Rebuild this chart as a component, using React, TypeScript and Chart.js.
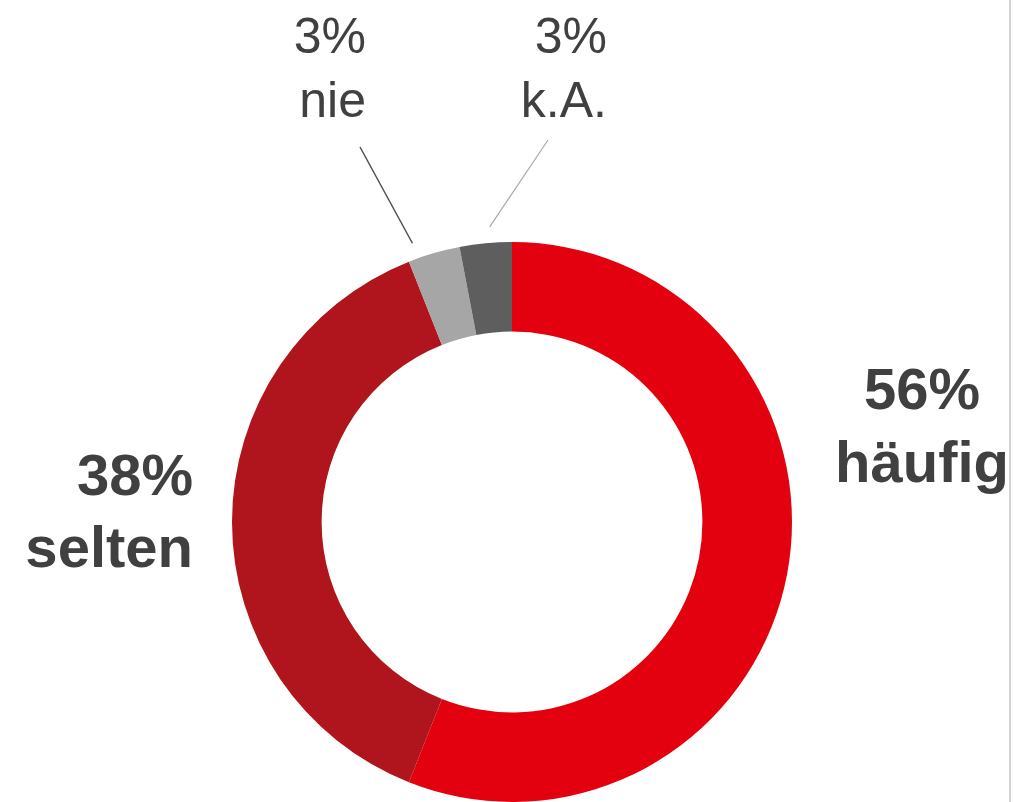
import React, { useEffect, useRef } from "react";
import { Chart, registerables } from "chart.js";

Chart.register(...registerables);

const categories = ["häufig", "selten", "nie", "k.A."];
const values = [56, 38, 3, 3];
const colors = ["#E3000F", "#B0141C", "#A6A6A6", "#5E5E5E"];

const W = 1015;
const H = 802;
const CANVAS_H = 810;

type LabelCfg = {
  x: number;
  y: [number, number];
  align: CanvasTextAlign;
  font: string;
  leader?: { x: number; y: number; color: string; width: number; frac: number };
};

const labelCfg: LabelCfg[] = [
  { x: 922, y: [409, 482], align: "center", font: "bold 58px 'Liberation Sans', Arial, sans-serif" },
  { x: 193, y: [495, 567], align: "right", font: "bold 58px 'Liberation Sans', Arial, sans-serif" },
  {
    x: 366, y: [53, 117], align: "right", font: "50px 'Liberation Sans', Arial, sans-serif",
    leader: { x: 360, y: 147, color: "#505050", width: 1.5, frac: 0.18 },
  },
  {
    x: 607, y: [53, 117], align: "right", font: "50px 'Liberation Sans', Arial, sans-serif",
    leader: { x: 548, y: 140, color: "#A8A8A8", width: 1.2, frac: 0.6 },
  },
];

const labelPlugin = {
  id: "labelPlugin",
  afterDraw(chart: any) {
    const ctx = chart.ctx as CanvasRenderingContext2D;
    const meta = chart.getDatasetMeta(0);
    ctx.save();
    meta.data.forEach((arc: any, i: number) => {
      const cfg = labelCfg[i];
      if (!cfg) return;
      ctx.fillStyle = "#404040";
      ctx.font = cfg.font;
      ctx.textAlign = cfg.align;
      ctx.textBaseline = "alphabetic";
      ctx.fillText(`${values[i]}%`, cfg.x, cfg.y[0]);
      ctx.fillText(categories[i], cfg.x, cfg.y[1]);
      if (cfg.leader) {
        const p = arc.getProps(["x", "y", "startAngle", "endAngle", "outerRadius"], true);
        const a = p.startAngle + (p.endAngle - p.startAngle) * cfg.leader.frac;
        const r = p.outerRadius + 16;
        const ex = p.x + Math.cos(a) * r;
        const ey = p.y + Math.sin(a) * r;
        ctx.strokeStyle = cfg.leader.color;
        ctx.lineWidth = cfg.leader.width;
        ctx.beginPath();
        ctx.moveTo(cfg.leader.x, cfg.leader.y);
        ctx.lineTo(ex, ey);
        ctx.stroke();
      }
    });
    // right border line
    ctx.fillStyle = "#D4D4D4";
    ctx.fillRect(1009, 0, 2, H);
    ctx.restore();
  },
};

export default function App() {
  const ref = useRef<HTMLCanvasElement | null>(null);
  useEffect(() => {
    if (!ref.current) return;
    const chart = new Chart(ref.current, {
      type: "doughnut",
      data: {
        labels: categories,
        datasets: [
          {
            data: values,
            backgroundColor: colors,
            borderWidth: 0,
          },
        ],
      },
      options: {
        responsive: false,
        devicePixelRatio: 1,
        animation: false,
        cutout: "68%",
        layout: { padding: { left: 232, right: W - 232 - 560, top: 242, bottom: CANVAS_H - 242 - 560 } },
        plugins: {
          legend: { display: false },
          tooltip: { enabled: false },
        },
      },
      plugins: [labelPlugin],
    });
    return () => chart.destroy();
  }, []);
  return (
    <div style={{ position: "fixed", left: 0, top: 0, width: W, height: H, overflow: "hidden", background: "#fff" }}>
      <canvas ref={ref} width={W} height={CANVAS_H} style={{ display: "block" }} />
    </div>
  );
}
